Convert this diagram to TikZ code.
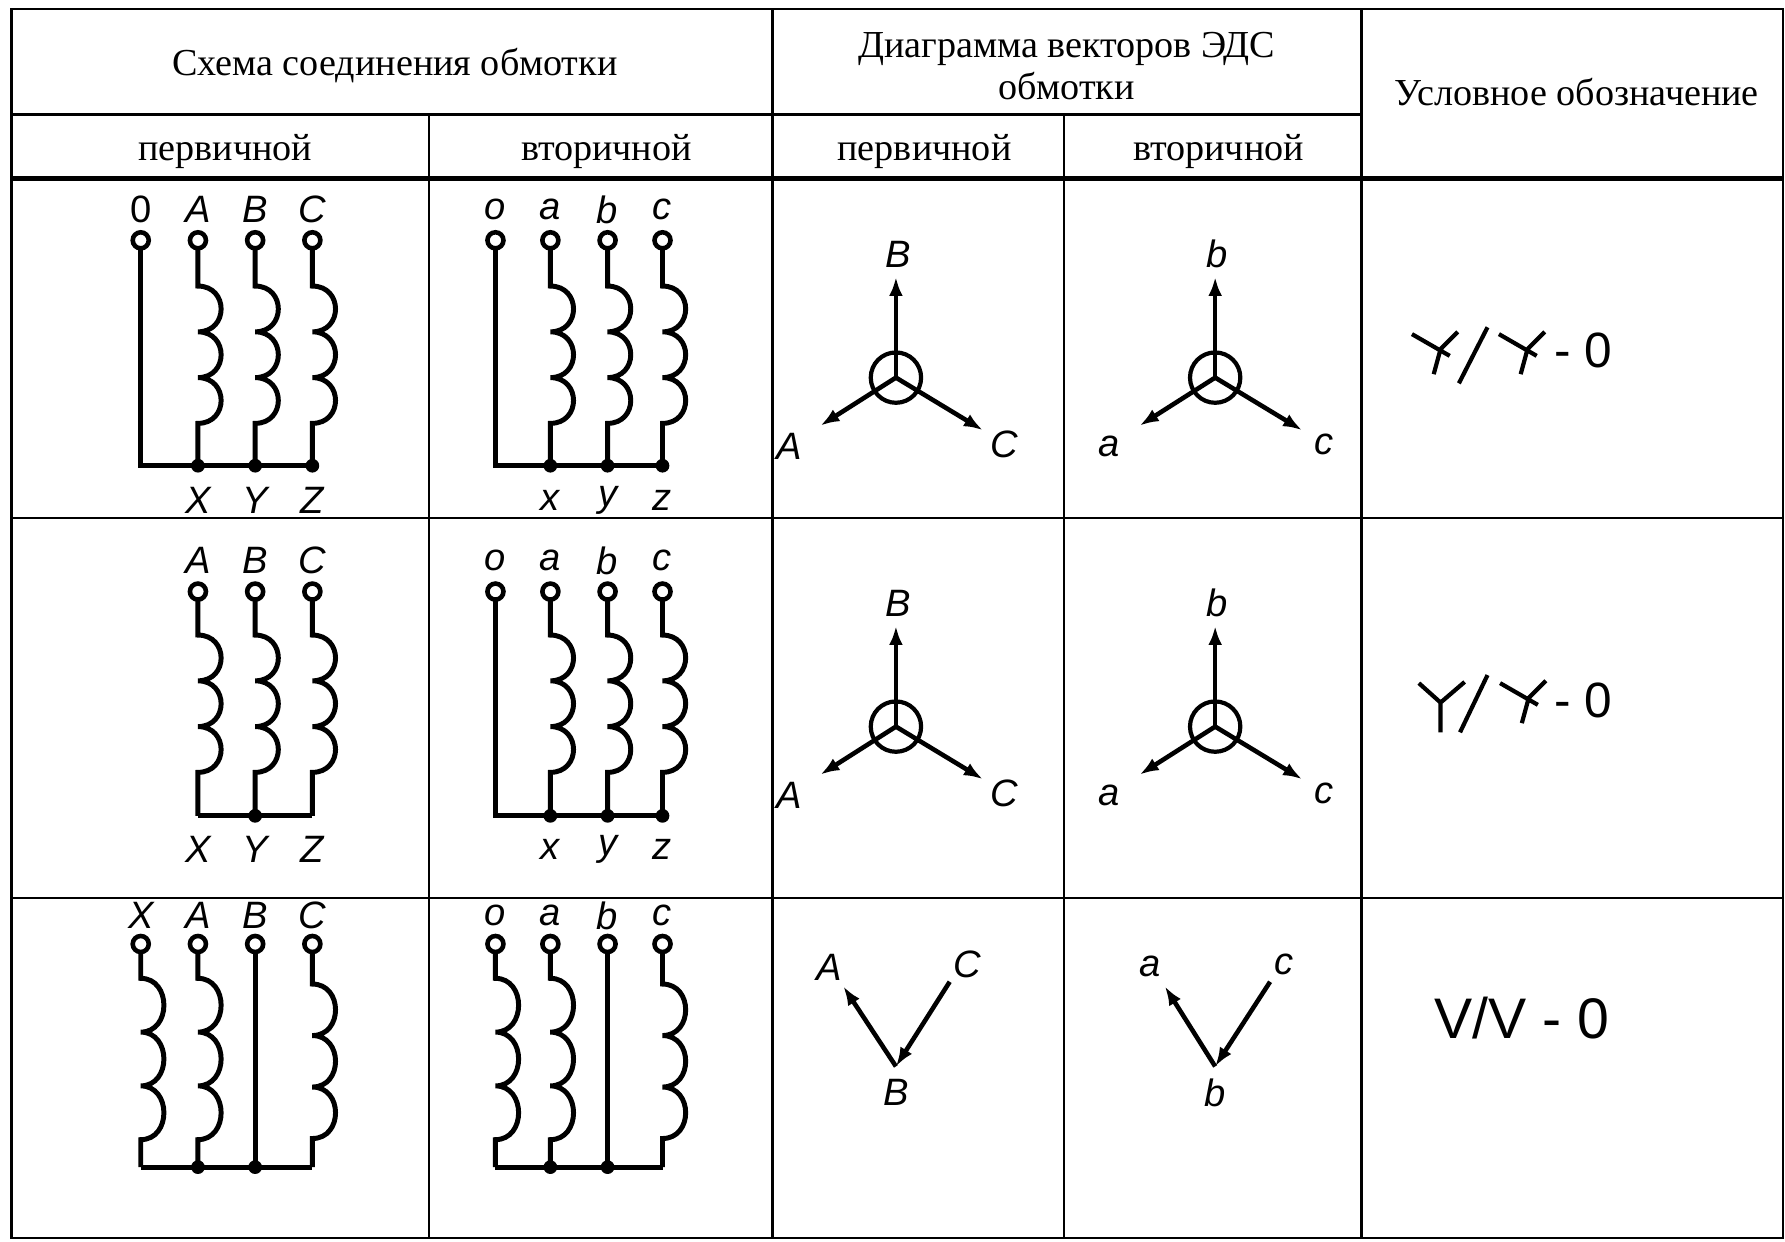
\documentclass[tikz,border=0pt]{standalone}
\usepackage{fontspec}
\setmainfont{Liberation Serif}
\setsansfont{Liberation Sans}
\usetikzlibrary{positioning,arrows.meta,calc}

\tikzset{
  grid/.style={line width=0.6pt},
  wire/.style={line width=1.3pt},
  term/.style={circle,draw,line width=1.2pt,fill=white,minimum size=4.2pt,inner sep=0pt},
  dot/.style={circle,fill,minimum size=3.6pt,inner sep=0pt},
  lbl/.style={font=\sffamily\itshape\fontsize{10}{10}\selectfont,inner sep=0pt},
  head/.style={font=\fontsize{10}{11}\selectfont,align=center},
  vec/.style={line width=1.2pt,-{Latex[length=5pt,width=3.6pt]}},
  sym/.style={line width=1.1pt}
}
% one winding: x, top of lead, start of coil, bump height, bottom
\newcommand\wind[5]{%
  \draw[wire] (#1,#2) -- (#1,#3)
    .. controls (#1+27,#3) and (#1+27,#3+#4) .. (#1,#3+#4)
    .. controls (#1+27,#3+#4) and (#1+27,#3+2*#4) .. (#1,#3+2*#4)
    .. controls (#1+27,#3+2*#4) and (#1+27,#3+3*#4) .. (#1,#3+3*#4)
    -- (#1,#5);}
% star of vectors: centre x, y, labels B A C
\newcommand\vstar[5]{%
  \coordinate (o#1) at (#1,#2);
  \draw[line width=1.1pt] (o#1) circle[radius=22];
  \coordinate (eB#1) at ($(o#1)+(0,-88)$);
  \coordinate (eA#1) at ($(o#1)+(-66,42)$);
  \coordinate (eC#1) at ($(o#1)+(76,46)$);
  \draw[vec] (o#1) -- (eB#1);
  \draw[vec] (o#1) -- (eA#1);
  \draw[vec] (o#1) -- (eC#1);
  \node[lbl] at ($(o#1)+(2,-108)$) {#3};
  \node[lbl] at ($(o#1)+(-93,60)$) {#4};
  \node[lbl] at ($(o#1)+(95,58)$) {#5};}
% tilted star symbol, offset x y
\newcommand\tstar[2]{%
  \draw[sym,shift={(#1,#2)}] (0,0) -- (33,19) (40,-2) -- (25,13) -- (19,35);}

\begin{document}
\begin{tikzpicture}[x=0.3pt,y=-0.3pt]
  \useasboundingbox (0,0) rectangle (1560,1085);
  %% table
  \draw[grid] (10,8) rectangle (1558,1082);
  \draw[grid] (10,100) -- (1190,100);
  \draw[line width=1.3pt] (10,156) -- (1558,156);
  \draw[grid] (10,453) -- (1558,453) (10,785) -- (1558,785);
  \draw[grid] (375,100) -- (375,1082) (675,8) -- (675,1082)
    (930,100) -- (930,1082) (1190,8) -- (1190,1082);
  \node[head] (h1) at (345,57) {Схема соединения обмотки};
  \node[head] (h2) at (932,58) {Диаграмма векторов ЭДС\\ обмотки};
  \node[head] (h3) at (1378,80) {Условное обозначение};
  \node[head] (s1) at (197,132) {первичной};
  \node[head] (s2) at (530,132) {вторичной};
  \node[head] (s3) at (808,132) {первичной};
  \node[head] (s4) at (1065,132) {вторичной};

  %% row 1, primary
  \node[lbl,font=\sffamily\fontsize{10}{10}\selectfont] at (123,183) {0};
  \foreach \x/\t in {173/A,223/B,273/C}
    \node[lbl] at (\x,183) {\t};
  \wind{173}{217}{250}{40}{407}
  \wind{223}{217}{250}{40}{407}
  \wind{273}{217}{250}{40}{407}
  \draw[wire] (123,217) -- (123,407) -- (273,407);
  \foreach \x/\t in {123/p0,173/pA,223/pB,273/pC}
    \node[term] (\t1) at (\x,210) {};
  \foreach \x/\t in {173/X,223/Y,273/Z}{
    \node[dot] at (\x,407) {};
    \node[lbl] at (\x,437) {\t};}
  %% row 1, secondary
  \foreach \x/\t in {433/o,481/a,531/b,579/c}
    \node[lbl] at (\x,183) {\t};
  \wind{481}{217}{250}{40}{407}
  \wind{531}{217}{250}{40}{407}
  \wind{579}{217}{250}{40}{407}
  \draw[wire] (433,217) -- (433,407) -- (579,407);
  \foreach \x/\t in {433/so,481/sa,531/sb,579/sc}
    \node[term] (\t1) at (\x,210) {};
  \foreach \x/\t in {481/x,531/y,579/z}{
    \node[dot] at (\x,407) {};
    \node[lbl] at (\x,437) {\t};}

  %% row 2, primary
  \foreach \x/\t in {173/A,223/B,273/C}
    \node[lbl] at (\x,490) {\t};
  \wind{173}{524}{555}{40}{713}
  \wind{223}{524}{555}{40}{713}
  \wind{273}{524}{555}{40}{713}
  \draw[wire] (173,713) -- (273,713);
  \foreach \x/\t in {173/pA,223/pB,273/pC}
    \node[term] (\t2) at (\x,517) {};
  \node[dot] at (223,713) {};
  \foreach \x/\t in {173/X,223/Y,273/Z}
    \node[lbl] at (\x,742) {\t};
  %% row 2, secondary
  \foreach \x/\t in {433/o,481/a,531/b,579/c}
    \node[lbl] at (\x,490) {\t};
  \wind{481}{524}{555}{40}{713}
  \wind{531}{524}{555}{40}{713}
  \wind{579}{524}{555}{40}{713}
  \draw[wire] (433,524) -- (433,713) -- (579,713);
  \foreach \x/\t in {433/so,481/sa,531/sb,579/sc}
    \node[term] (\t2) at (\x,517) {};
  \foreach \x/\t in {481/x,531/y,579/z}{
    \node[dot] at (\x,713) {};
    \node[lbl] at (\x,742) {\t};}

  %% row 3, primary
  \foreach \x/\t in {123/X,173/A,223/B,273/C}
    \node[lbl] at (\x,800) {\t};
  \wind{123}{832}{855}{47}{1020}
  \wind{173}{832}{855}{47}{1020}
  \wind{273}{832}{860}{45}{1020}
  \draw[wire] (223,832) -- (223,1020);
  \draw[wire] (123,1020) -- (273,1020);
  \foreach \x/\t in {123/pX,173/pA,223/pB,273/pC}
    \node[term] (\t3) at (\x,825) {};
  \node[dot] at (173,1020) {};
  \node[dot] at (223,1020) {};
  %% row 3, secondary
  \foreach \x/\t in {433/o,481/a,531/b,579/c}
    \node[lbl] at (\x,800) {\t};
  \wind{433}{832}{855}{47}{1020}
  \wind{481}{832}{855}{47}{1020}
  \wind{579}{832}{860}{45}{1020}
  \draw[wire] (531,832) -- (531,1020);
  \draw[wire] (433,1020) -- (579,1020);
  \foreach \x/\t in {433/so,481/sa,531/sb,579/sc}
    \node[term] (\t3) at (\x,825) {};
  \node[dot] at (481,1020) {};
  \node[dot] at (531,1020) {};

  %% vector diagrams
  \vstar{783}{330}{B}{A}{C}
  \vstar{1062}{330}{b}{a}{c}
  \vstar{783}{635}{B}{A}{C}
  \vstar{1062}{635}{b}{a}{c}
  \coordinate (vB) at (783,932); \coordinate (vA) at (737,862);
  \coordinate (vC) at (830,858);
  \draw[vec] (vB) -- (vA);
  \draw[vec] (vC) -- (vB);
  \node[lbl] at (725,845) {A};
  \node[lbl] at (845,843) {C};
  \node[lbl] at (783,955) {B};
  \coordinate (wb) at (1062,932); \coordinate (wa) at (1018,862);
  \coordinate (wc) at (1110,858);
  \draw[vec] (wb) -- (wa);
  \draw[vec] (wc) -- (wb);
  \node[lbl] at (1005,845) {a};
  \node[lbl] at (1122,843) {c};
  \node[lbl] at (1062,955) {b};

  %% symbols
  \tstar{1234}{292}
  \draw[sym] (1300,286) -- (1275,335);
  \tstar{1310}{292}
  \node[font=\sffamily\fontsize{13}{13}\selectfont] at (1384,306) {- 0};
  \draw[sym] (1240,597) -- (1259,614) -- (1280,596) (1259,614) -- (1259,640)
    (1300,590) -- (1276,640);
  \tstar{1311}{597}
  \node[font=\sffamily\fontsize{13}{13}\selectfont] at (1384,612) {- 0};
  \node[font=\sffamily\fontsize{15}{15}\selectfont] at (1330,890) {V/V - 0};
\end{tikzpicture}
\end{document}
